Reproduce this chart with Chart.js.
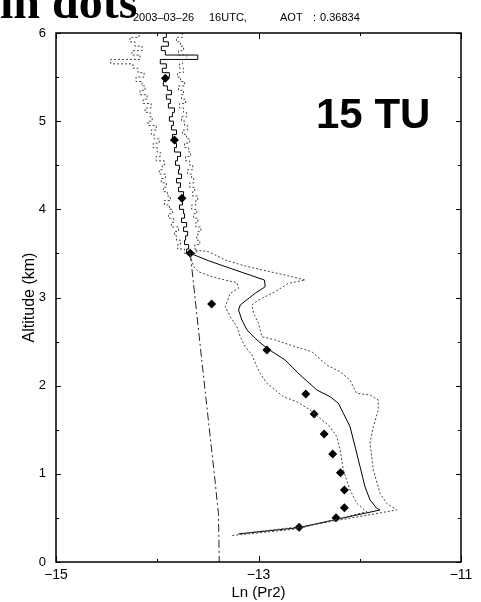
<!DOCTYPE html>
<html>
<head>
<meta charset="utf-8">
<script src="https://cdn.jsdelivr.net/npm/chart.js@4"></script>
<style>
  html, body { margin: 0; padding: 0; background: #fff; }
  #wrap { position: relative; width: 481px; height: 602px; }
</style>
</head>
<body>
<div id="wrap"><canvas id="profileChart" width="481" height="602"></canvas></div>
<script>
// axis ticks
const xTickLabels = [-15, -13, -11];
const xMinorTicks = [-14, -12];
const yTickLabels = [0, 1, 2, 3, 4, 5, 6];
const yMinorTicks = [0.5, 1.5, 2.5, 3.5, 4.5, 5.5];

// noisy part of the profile, 3.5 - 6 km
const upperAlt = [3.50, 3.55, 3.60, 3.65, 3.70, 3.75, 3.80, 3.85, 3.90, 3.95,
  4.00, 4.05, 4.10, 4.15, 4.20, 4.25, 4.30, 4.35, 4.40, 4.45,
  4.50, 4.55, 4.60, 4.65, 4.70, 4.75, 4.80, 4.85, 4.90, 4.95,
  5.00, 5.05, 5.10, 5.15, 5.20, 5.25, 5.30, 5.35, 5.40, 5.45,
  5.50, 5.55, 5.60, 5.65, 5.70, 5.75, 5.80, 5.85, 5.90, 5.95, 6.00];
const upperMean = [-13.67, -13.71, -13.69, -13.73, -13.72, -13.70, -13.74, -13.71, -13.76, -13.73,
  -13.74, -13.78, -13.75, -13.76, -13.74, -13.79, -13.77, -13.81, -13.76, -13.79,
  -13.78, -13.82, -13.80, -13.77, -13.83, -13.81, -13.83, -13.85, -13.81, -13.86,
  -13.84, -13.88, -13.85, -13.83, -13.89, -13.87, -13.91, -13.86, -13.90, -13.94,
  -13.92, -13.88, -13.95, -13.91, -13.97, -13.60, -13.92, -13.96, -13.89, -13.94, -13.91];
const upperLow = [-13.68, -13.73, -13.80, -13.77, -13.81, -13.83, -13.79, -13.86, -13.84, -13.89,
  -13.85, -13.88, -13.93, -13.87, -13.90, -13.94, -13.91, -13.96, -13.92, -13.98,
  -13.95, -13.93, -14.01, -13.97, -14.00, -14.04, -13.98, -14.03, -14.06, -14.01,
  -14.09, -14.05, -14.07, -14.12, -14.06, -14.14, -14.10, -14.17, -14.12, -14.15,
  -14.21, -14.13, -14.19, -14.24, -14.46, -14.17, -14.25, -14.15, -14.22, -14.27, -14.18];
const upperHigh = [-13.64, -13.61, -13.63, -13.58, -13.61, -13.60, -13.57, -13.62, -13.60, -13.64,
  -13.61, -13.66, -13.62, -13.60, -13.65, -13.63, -13.68, -13.64, -13.66, -13.70,
  -13.65, -13.68, -13.72, -13.67, -13.69, -13.73, -13.68, -13.71, -13.75, -13.70,
  -13.73, -13.76, -13.71, -13.74, -13.78, -13.72, -13.76, -13.74, -13.79, -13.73,
  -13.77, -13.80, -13.74, -13.78, -13.75, -13.71, -13.79, -13.74, -13.77, -13.81, -13.75];

// smooth part below 3.5 km (mean and +/- sigma)
const meanLn  = [-13.674, -13.493, -13.230, -12.941, -12.934, -13.033, -13.180, -13.197, -13.164, -13.114,
  -13.033, -12.917, -12.737, -12.589, -12.424, -12.293, -12.211, -12.162, -12.096, -12.046,
  -11.997, -11.948, -11.898, -11.832, -11.800, -12.606, -13.200];
const meanAlt = [3.501, 3.417, 3.312, 3.198, 3.122, 3.048, 2.915, 2.858, 2.745, 2.632,
  2.537, 2.424, 2.291, 2.121, 1.951, 1.875, 1.800, 1.687, 1.535, 1.308,
  1.081, 0.854, 0.703, 0.609, 0.590, 0.389, 0.318];
const highLn  = [-13.624, -13.493, -13.328, -13.164, -12.966, -12.737, -12.539, -12.704, -12.835, -13.000,
  -13.065, -13.049, -13.000, -12.966, -12.835, -12.638, -12.473, -12.325, -12.194, -12.096,
  -12.030, -11.899, -11.817, -11.817, -11.866, -11.899, -11.866, -11.800, -11.734, -11.635,
  -12.550, -13.120];
const highAlt = [3.539, 3.519, 3.425, 3.368, 3.312, 3.255, 3.198, 3.161, 3.066, 2.972,
  2.915, 2.821, 2.707, 2.555, 2.518, 2.442, 2.385, 2.234, 2.158, 2.064,
  1.913, 1.894, 1.837, 1.724, 1.535, 1.346, 1.043, 0.779, 0.666, 0.590,
  0.405, 0.330];
const lowLn  = [-13.674, -13.641, -13.592, -13.460, -13.328, -13.213, -13.197, -13.279, -13.328, -13.279,
  -13.213, -13.180, -13.131, -13.065, -13.016, -12.983, -12.917, -12.753, -12.621, -12.490,
  -12.392, -12.293, -12.227, -12.194, -12.162, -12.096, -12.030, -11.931, -12.620, -13.260];
const lowAlt = [3.482, 3.349, 3.292, 3.236, 3.198, 3.168, 3.104, 3.048, 2.896, 2.782,
  2.669, 2.555, 2.442, 2.348, 2.215, 2.140, 2.027, 1.875, 1.818, 1.724,
  1.630, 1.535, 1.421, 1.270, 1.043, 0.817, 0.666, 0.570, 0.375, 0.300];

// molecular profile
const molLn  = [-13.674, -13.552, -13.427, -13.410, -13.395, -13.388];
const molAlt = [3.50, 2.20, 0.90, 0.70, 0.55, 0.00];

// points shown as diamonds
const dotLn  = [-13.92, -13.83, -13.756, -13.674, -13.463, -12.917, -12.533, -12.451, -12.352, -12.267,
  -12.191, -12.152, -12.152, -12.234, -12.599];
const dotAlt = [5.486, 4.786, 4.125, 3.501, 2.926, 2.404, 1.905, 1.679, 1.452, 1.225,
  1.013, 0.817, 0.616, 0.503, 0.393];

const pairs = (xs, ys) => xs.map((v, i) => ({ x: v, y: ys[i] }));
const fmt = v => (v < 0 ? '\u2212' + Math.abs(v) : String(v));

Chart.defaults.font.family = '"Liberation Sans", Arial, sans-serif';
Chart.defaults.color = '#000';

const lineBase = { showLine: true, pointRadius: 0, borderWidth: 1, fill: false, tension: 0 };
const dotted = { borderColor: '#444', borderDash: [2, 2] };

// frame with inward ticks on all four sides
const frameTicks = {
  id: 'frameTicks',
  afterDatasetsDraw(chart) {
    const { ctx, chartArea: a, scales: { x, y } } = chart;
    ctx.save();
    ctx.strokeStyle = '#000';
    ctx.lineWidth = 1.5;
    ctx.strokeRect(a.left, a.top, a.right - a.left, a.bottom - a.top);
    ctx.lineWidth = 1;
    ctx.beginPath();
    const xt = (v, len) => {
      const px = Math.round(x.getPixelForValue(v)) + 0.5;
      ctx.moveTo(px, a.bottom); ctx.lineTo(px, a.bottom - len);
      ctx.moveTo(px, a.top); ctx.lineTo(px, a.top + len);
    };
    const yt = (v, len) => {
      const py = Math.round(y.getPixelForValue(v)) + 0.5;
      ctx.moveTo(a.left, py); ctx.lineTo(a.left + len, py);
      ctx.moveTo(a.right, py); ctx.lineTo(a.right - len, py);
    };
    xTickLabels.forEach(v => xt(v, 6));
    xMinorTicks.forEach(v => xt(v, 3));
    yTickLabels.forEach(v => yt(v, 5));
    yMinorTicks.forEach(v => yt(v, 3));
    ctx.stroke();
    ctx.restore();
  }
};

// header texts and the panel label
const headerText = {
  id: 'headerText',
  afterDraw(chart) {
    const ctx = chart.ctx;
    ctx.save();
    ctx.fillStyle = '#000';
    ctx.textBaseline = 'alphabetic';
    ctx.textAlign = 'left';
    ctx.font = 'bold 48px "Liberation Serif", serif';
    ctx.fillText('in dots', 0, 18);
    ctx.font = '11px "Liberation Sans", Arial, sans-serif';
    ctx.fillText('2003\u201303\u201326', 133, 20.5);
    ctx.fillText('16UTC,', 209, 20.5);
    ctx.fillText('AOT', 280, 20.5);
    ctx.fillText(':', 313, 20.5);
    ctx.fillText('0.36834', 320, 20.5);
    ctx.font = 'bold 42px "Liberation Sans", Arial, sans-serif';
    ctx.fillText('15 TU', 316, 128);
    ctx.restore();
  }
};

new Chart(document.getElementById('profileChart'), {
  type: 'scatter',
  data: {
    datasets: [
      { ...lineBase, ...dotted, stepped: true, data: pairs(upperLow, upperAlt) },
      { ...lineBase, ...dotted, stepped: true, data: pairs(upperHigh, upperAlt) },
      { ...lineBase, borderColor: '#000', stepped: true, data: pairs(upperMean, upperAlt) },
      { ...lineBase, ...dotted, data: pairs(lowLn, lowAlt) },
      { ...lineBase, ...dotted, data: pairs(highLn, highAlt) },
      { ...lineBase, borderColor: '#000', data: pairs(meanLn, meanAlt) },
      { ...lineBase, borderColor: '#222', borderDash: [8, 3, 2, 3], data: pairs(molLn, molAlt) },
      { data: pairs(dotLn, dotAlt), pointStyle: 'rectRot', pointRadius: 4.5,
        backgroundColor: '#000', borderColor: '#000', borderWidth: 0, showLine: false }
    ]
  },
  options: {
    responsive: false,
    animation: false,
    layout: { padding: { top: 33, right: 20, left: 0, bottom: 0 } },
    plugins: { legend: { display: false }, tooltip: { enabled: false } },
    scales: {
      x: {
        type: 'linear', min: -15, max: -11,
        afterBuildTicks: s => { s.ticks = xTickLabels.map(v => ({ value: v })); },
        afterFit: s => { s.height = 40; },
        grid: { display: false, drawTicks: false },
        border: { display: false },
        ticks: { padding: 5, autoSkip: false, maxRotation: 0, font: { size: 14 }, callback: v => fmt(v) },
        title: { display: true, text: 'Ln (Pr2)', font: { size: 15 }, padding: { top: 0, bottom: 0 } }
      },
      y: {
        type: 'linear', min: 0, max: 6,
        afterBuildTicks: s => { s.ticks = yTickLabels.map(v => ({ value: v })); },
        afterFit: s => { s.width = 56; },
        grid: { display: false, drawTicks: false },
        border: { display: false },
        ticks: { padding: 10, font: { size: 13 }, callback: v => fmt(v) },
        title: { display: true, text: 'Altitude (km)', font: { size: 16 }, padding: { top: 20, bottom: 0 } }
      }
    }
  },
  plugins: [frameTicks, headerText]
});
</script>
</body>
</html>
